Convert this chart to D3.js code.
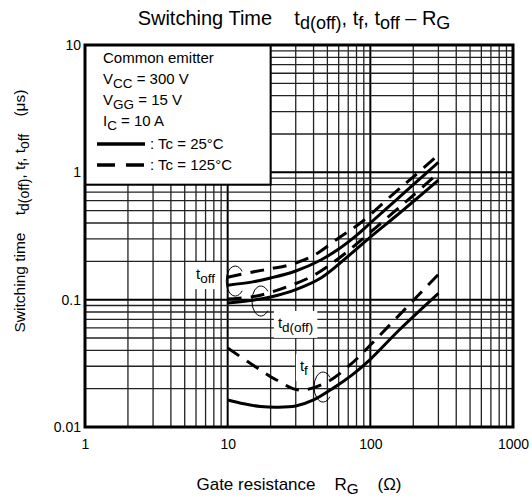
<!DOCTYPE html>
<html>
<head>
<meta charset="utf-8">
<script src="https://cdn.jsdelivr.net/npm/d3@7"></script>
<style>
  body { margin: 0; background: #fff; }
  svg text { font-family: Arial, "Liberation Sans", Helvetica, sans-serif; fill: #000; white-space: pre; }
</style>
</head>
<body>
<svg id="chart"></svg>
<script>
// values: RG in ohm, time in us
const rgTicks = [1, 10, 100, 1000];
const timeTicks = [0.01, 0.1, 1, 10];

const toff25 = [[10, 0.13], [15, 0.138], [20, 0.148], [30, 0.168], [45, 0.205], [60, 0.25], [80, 0.32], [100, 0.4], [150, 0.6], [200, 0.8], [300, 1.2]];
const toff125 = [[10, 0.15], [15, 0.165], [20, 0.175], [27, 0.187], [40, 0.222], [60, 0.305], [85, 0.40], [150, 0.7], [200, 0.92], [300, 1.37]];
const tdoff25 = [[10, 0.094], [15, 0.099], [20, 0.105], [30, 0.12], [45, 0.148], [70, 0.22], [100, 0.31], [150, 0.45], [200, 0.59], [300, 0.87]];
const tdoff125 = [[10, 0.101], [16, 0.107], [26, 0.126], [40, 0.155], [58, 0.205], [85, 0.29], [150, 0.5], [200, 0.66], [300, 0.99]];
const tf25 = [[10, 0.0163], [13, 0.0152], [17, 0.0145], [22, 0.0143], [30, 0.0146], [40, 0.0163], [55, 0.0202], [75, 0.0258], [100, 0.034], [160, 0.058], [300, 0.112]];
const tf125 = [[10, 0.0417], [15, 0.0307], [22, 0.0234], [32, 0.0195], [50, 0.0226], [72, 0.0307], [100, 0.044], [160, 0.076], [300, 0.158]];

const legendLines = ['Common emitter', 'V_{CC} = 300 V', 'V_{GG} = 15 V', 'I_{C} = 10 A'];
const tempLabels = [': Tc = 25°C', ': Tc = 125°C'];

// curve name tags and the little "C" pointers, in data coordinates
const curveLabels = [
  { text: 't_{off}', rg: 6.0, t: 0.145 },
  { text: 't_{d(off)}', rg: 22.5, t: 0.06 },
  { text: 't_{f}', rg: 32.1, t: 0.0275 }
];
const pointers = [[11.3, 0.14], [17.1, 0.0976], [46.6, 0.0206]];

const series = [
  { values: toff25, dashed: false }, { values: toff125, dashed: true },
  { values: tdoff25, dashed: false }, { values: tdoff125, dashed: true },
  { values: tf25, dashed: false }, { values: tf125, dashed: true }
];

// text with _{sub} parts turned into lowered tspans
function addRich(textSel, str) {
  const parts = str.split(/(_\{[^}]*\})/).filter(s => s.length);
  let sub = false;
  parts.forEach(p => {
    const isSub = p.startsWith('_{');
    const ts = textSel.append('tspan').text(isSub ? p.slice(2, -1) : p);
    if (isSub !== sub) ts.attr('dy', isSub ? 4 : -4);
    if (isSub) ts.attr('font-size', '0.9em');
    sub = isSub;
  });
  return textSel;
}

class SwitchingTimeChart {
  constructor(_config) {
    this.config = {
      parentElement: _config.parentElement,
      containerWidth: _config.width,
      containerHeight: _config.height,
      margin: { top: 45, right: 19, bottom: 75, left: 85 }
    };
    this.initVis();
  }

  initVis() {
    let vis = this;
    vis.config.width = vis.config.containerWidth - vis.config.margin.left - vis.config.margin.right;
    vis.config.height = vis.config.containerHeight - vis.config.margin.top - vis.config.margin.bottom;

    vis.svg = d3.select(vis.config.parentElement)
      .attr('width', vis.config.containerWidth)
      .attr('height', vis.config.containerHeight);

    vis.chartArea = vis.svg.append('g')
      .attr('transform', `translate(${vis.config.margin.left},${vis.config.margin.top})`);

    vis.xScale = d3.scaleLog().domain([1, 1000]).range([0, vis.config.width]);
    vis.yScale = d3.scaleLog().domain([0.01, 10]).range([vis.config.height, 0]);

    vis.renderVis();
  }

  renderVis() {
    let vis = this;
    const w = vis.config.width, h = vis.config.height;
    const isMajor = v => Math.abs(Math.log10(v) - Math.round(Math.log10(v))) < 1e-6;

    // grid
    const grid = vis.chartArea.append('g');
    grid.selectAll('.vgrid')
      .data(vis.xScale.ticks())
      .join('line')
      .attr('x1', d => vis.xScale(d)).attr('x2', d => vis.xScale(d))
      .attr('y1', 0).attr('y2', h)
      .attr('stroke', d => isMajor(d) ? '#000' : '#222')
      .attr('stroke-width', d => isMajor(d) ? 2 : 1.3);
    grid.selectAll('.hgrid')
      .data(vis.yScale.ticks())
      .join('line')
      .attr('y1', d => vis.yScale(d)).attr('y2', d => vis.yScale(d))
      .attr('x1', 0).attr('x2', w)
      .attr('stroke', d => isMajor(d) ? '#000' : '#222')
      .attr('stroke-width', d => isMajor(d) ? 2 : 1.3);

    // axes (labels only)
    const xAxisG = vis.chartArea.append('g')
      .attr('transform', `translate(0,${h})`)
      .call(d3.axisBottom(vis.xScale).tickValues(rgTicks).tickSize(0).tickPadding(12).tickFormat(d => String(d)));
    const yAxisG = vis.chartArea.append('g')
      .call(d3.axisLeft(vis.yScale).tickValues(timeTicks).tickSize(0).tickPadding(4).tickFormat(d => String(d)));
    [xAxisG, yAxisG].forEach(g => {
      g.select('.domain').remove();
      g.selectAll('text').attr('font-size', 14).attr('font-family', null);
    });

    // legend box
    const lx1 = vis.xScale(20), ly1 = vis.yScale(0.8);
    vis.chartArea.append('rect')
      .attr('x', 0).attr('y', 0).attr('width', lx1).attr('height', ly1)
      .attr('fill', '#fff').attr('stroke', '#000').attr('stroke-width', 2);
    legendLines.forEach((s, i) => {
      addRich(vis.chartArea.append('text')
        .attr('x', 18).attr('y', 18 + i * 21).attr('font-size', 15), s);
    });
    tempLabels.forEach((s, i) => {
      const y = 99 + i * 21;
      vis.chartArea.append('line')
        .attr('x1', 12).attr('x2', 60).attr('y1', y).attr('y2', y)
        .attr('stroke', '#000').attr('stroke-width', 3.5)
        .attr('stroke-dasharray', i ? '18,11' : null);
      vis.chartArea.append('text')
        .attr('x', 65).attr('y', y + 5).attr('font-size', 15).text(s);
    });

    // curve name tags on white patches
    curveLabels.forEach(l => {
      const t = addRich(vis.chartArea.append('text')
        .attr('x', vis.xScale(l.rg)).attr('y', vis.yScale(l.t)).attr('font-size', 15), l.text);
      const bb = t.node().getBBox();
      vis.chartArea.insert('rect', () => t.node())
        .attr('x', bb.x - 4).attr('y', bb.y - 3)
        .attr('width', bb.width + 8).attr('height', bb.height + 6)
        .attr('fill', '#fff');
    });

    // pointers
    pointers.forEach(p => {
      const cx = vis.xScale(p[0]), cy = vis.yScale(p[1]);
      const rx = 9, ry = 15, a = 40 * Math.PI / 180;
      const x0 = cx + rx * Math.cos(a), y0 = cy - ry * Math.sin(a);
      const x1 = cx + rx * Math.cos(a), y1 = cy + ry * Math.sin(a);
      vis.chartArea.append('path')
        .attr('d', `M${x0},${y0} A${rx},${ry} 0 1 0 ${x1},${y1}`)
        .attr('fill', 'none').attr('stroke', '#000').attr('stroke-width', 1);
    });

    // curves
    const line = d3.line()
      .x(d => vis.xScale(d[0]))
      .y(d => vis.yScale(d[1]))
      .curve(d3.curveCatmullRom.alpha(0.5));
    vis.chartArea.selectAll('.curve')
      .data(series)
      .join('path')
      .attr('class', 'curve')
      .attr('d', d => line(d.values))
      .attr('fill', 'none')
      .attr('stroke', '#000')
      .attr('stroke-width', 3)
      .attr('stroke-dasharray', d => d.dashed ? '14,9' : null);

    // frame
    vis.chartArea.append('rect')
      .attr('width', w).attr('height', h)
      .attr('fill', 'none').attr('stroke', '#000').attr('stroke-width', 3);

    // titles
    addRich(vis.svg.append('text')
      .attr('x', 294).attr('y', 25).attr('text-anchor', 'middle').attr('font-size', 20),
      'Switching Time    t_{d(off)}, t_{f}, t_{off} – R_{G}');
    addRich(vis.svg.append('text')
      .attr('x', vis.config.margin.left + w / 2).attr('y', 490).attr('text-anchor', 'middle').attr('font-size', 17),
      'Gate resistance    R_{G}    (Ω)');
    addRich(vis.svg.append('text')
      .attr('transform', 'translate(25,211) rotate(-90)')
      .attr('text-anchor', 'middle').attr('font-size', 15.5),
      'Switching time    t_{d(off)}, t_{f}, t_{off}    (μs)');
  }
}

new SwitchingTimeChart({ parentElement: '#chart', width: 532, height: 502 });
</script>
</body>
</html>
